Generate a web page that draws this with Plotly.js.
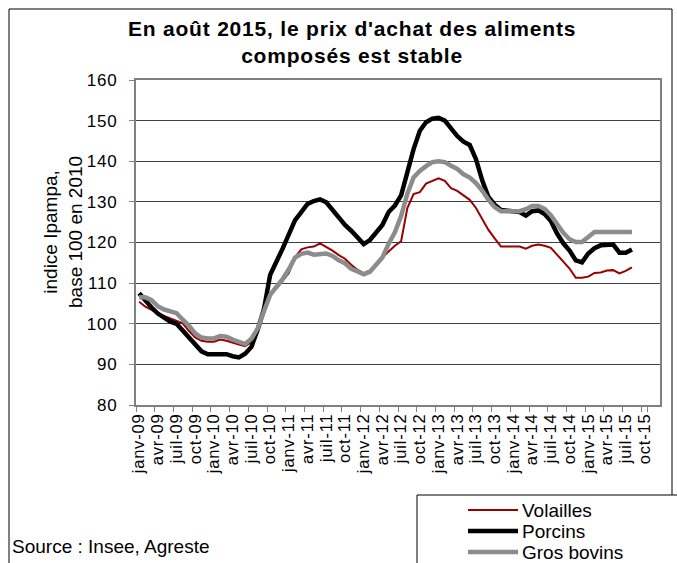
<!DOCTYPE html>
<html>
<head>
<meta charset="utf-8">
<script src="https://cdn.plot.ly/plotly-3.0.1.min.js"></script>
<style>
  html, body { margin: 0; padding: 0; background: #fff; }
  #chart { width: 677px; height: 563px; }
  /* the original chart's title and tick text runs a bit wider than Liberation Sans */
  #chart .gtitle, #chart .xtick text, #chart .ytick text { letter-spacing: 0.8px; }
</style>
</head>
<body>
<div id="chart"></div>
<script>
// axis categories: janv-09 .. déc-15, a label every 3 months
var monthNames = ['janv', 'févr', 'mars', 'avr', 'mai', 'juin', 'juil', 'août', 'sept', 'oct', 'nov', 'déc'];
var years = ['09', '10', '11', '12', '13', '14', '15'];
var months = [];
years.forEach(function (y) {
    monthNames.forEach(function (m) { months.push(m + '-' + y); });
});
var tickMonths = months.filter(function (m, i) { return i % 3 === 0 && i <= 81; });

// indice Ipampa, base 100 en 2010 (janv-09 .. août-15)
var volailles = [
    105.4, 104.2, 103.4, 102.5, 101.9, 101.3, 100.8, 100.1, 98.2, 96.6, 95.8, 95.6,
    95.6, 96.1, 95.8, 95.3, 94.9, 94.5, 95.5, 98.0, 103.0, 107.5, 108.6, 110.6,
    112.5, 116.4, 118.3, 118.8, 119.0, 119.8, 119.0, 118.0, 116.9, 116.0, 114.5, 113.3,
    112.4, 113.1, 114.5, 116.3, 117.8, 119.2, 120.3, 128.5, 131.9, 132.4, 134.5, 135.2,
    135.8, 135.2, 133.4, 132.7, 131.5, 130.5, 128.5, 125.8, 123.1, 121.0, 119.0, 119.0,
    119.0, 119.0, 118.5, 119.2, 119.5, 119.2, 118.7, 117.0, 115.3, 113.6, 111.3, 111.3,
    111.6, 112.5, 112.6, 113.1, 113.2, 112.4, 113.0, 113.9
];
var porcins = [
    107.5, 105.6, 104.0, 102.5, 101.5, 100.5, 100.0, 98.3, 96.5, 94.5, 93.2, 92.5,
    92.5, 92.5, 92.5, 92.0, 91.7, 92.6, 94.3, 98.5, 103.5, 112.0, 115.0, 118.5,
    122.0, 125.5, 127.5, 129.5, 130.2, 130.6, 129.9, 128.0, 126.2, 124.3, 122.9, 121.4,
    119.6, 120.6, 122.5, 124.3, 127.5, 129.1, 131.6, 137.8, 143.0, 147.5, 149.6, 150.5,
    150.7, 150.0, 148.0, 146.2, 144.8, 144.0, 140.5, 135.3, 131.2, 129.3, 128.0, 127.8,
    127.8, 127.5, 126.6, 127.7, 127.9, 127.0, 125.3, 122.2, 119.8, 118.0, 115.6, 115.1,
    117.3, 118.6, 119.3, 119.5, 119.5, 117.5, 117.5, 118.3
];
var grosBovins = [
    106.5, 106.5, 105.8, 104.3, 103.5, 103.0, 102.6, 101.0, 99.5, 97.6, 96.6, 96.4,
    96.4, 97.0, 96.8, 96.1, 95.6, 95.0, 96.3, 98.8, 103.0, 107.1, 109.1, 111.0,
    113.4, 116.3, 117.2, 117.5, 117.0, 117.2, 117.3, 116.7, 115.6, 114.9, 113.5, 112.9,
    112.2, 112.8, 114.7, 116.3, 119.7, 122.5, 126.5, 132.0, 136.0, 137.6, 138.8, 139.8,
    140.0, 139.8, 138.9, 138.1, 136.8, 136.0, 134.6, 132.8, 130.5, 128.7, 127.7, 127.7,
    127.7, 127.7, 128.2, 129.0, 129.0, 128.3, 126.7, 124.5, 122.4, 120.8, 120.1, 120.1,
    121.3, 122.6, 122.6, 122.6, 122.6, 122.6, 122.6, 122.6
];

var seriesNames = ['Volailles', 'Porcins', 'Gros bovins'];
var seriesColors = ['#990000', '#000000', '#8c8c8c'];
var seriesWidths = [2, 4.5, 4.5];
var seriesValues = [volailles, porcins, grosBovins];

var W = 677, H = 563;
var M = {l: 136, r: 17, t: 80, b: 158};
// pixel -> paper helpers for the frame, the legend box and the notes
function px(x) { return (x - M.l) / (W - M.l - M.r); }
function py(y) { return (H - M.b - y) / (H - M.t - M.b); }

var font = 'Liberation Sans, Arial, sans-serif';

var data = seriesValues.map(function (vals, k) {
    return {
        x: months.slice(0, vals.length),
        y: vals,
        name: seriesNames[k],
        type: 'scatter',
        mode: 'lines',
        line: {color: seriesColors[k], width: seriesWidths[k]},
        showlegend: false
    };
});

var shapes = [{
    type: 'rect', xref: 'paper', yref: 'paper', layer: 'below',
    x0: px(9), x1: px(672), y0: py(9), y1: py(620),
    line: {color: '#000', width: 1}, fillcolor: 'rgba(0,0,0,0)'
}, {
    type: 'rect', xref: 'paper', yref: 'paper',
    x0: px(417), x1: px(700), y0: py(495), y1: py(620),
    line: {color: '#000', width: 1}, fillcolor: '#fff'
}];
var annotations = [{
    // y axis title, placed by hand so it sits close to the tick labels
    text: 'indice Ipampa,<br>base 100 en 2010', xref: 'paper', yref: 'paper',
    x: px(63), y: py(232), xanchor: 'center', yanchor: 'middle', textangle: -90,
    showarrow: false, font: {family: font, size: 19, color: '#000'}
}, {
    text: 'Source : Insee, Agreste', xref: 'paper', yref: 'paper',
    x: px(10), y: py(546), xanchor: 'left', yanchor: 'middle', showarrow: false,
    font: {family: font, size: 19, color: '#000'}
}];
var legendY = [510, 531, 552];
seriesNames.forEach(function (name, k) {
    shapes.push({
        type: 'line', xref: 'paper', yref: 'paper',
        x0: px(468), x1: px(518), y0: py(legendY[k]), y1: py(legendY[k]),
        line: {color: seriesColors[k], width: seriesWidths[k]}
    });
    annotations.push({
        text: name, xref: 'paper', yref: 'paper',
        x: px(520), y: py(legendY[k]), xanchor: 'left', yanchor: 'middle', showarrow: false,
        font: {family: font, size: 19, color: '#000'}
    });
});

var layout = {
    width: W,
    height: H,
    margin: M,
    paper_bgcolor: '#fff',
    plot_bgcolor: '#fff',
    font: {family: font, color: '#000'},
    title: {
        text: "<b>En août 2015, le prix d'achat des aliments<br>composés est stable</b>",
        font: {family: font, size: 21, color: '#000'},
        x: 0.52, xanchor: 'center', y: 0.936, yanchor: 'top'
    },
    xaxis: {
        type: 'category',
        categoryorder: 'array',
        categoryarray: months,
        range: [-0.5, months.length - 0.5],
        tickmode: 'array',
        tickvals: tickMonths,
        ticktext: tickMonths,
        tickson: 'boundaries',
        tickangle: -90,
        ticks: 'outside',
        ticklen: 5,
        tickcolor: '#808080',
        tickfont: {family: font, size: 16.5, color: '#000'},
        showgrid: false,
        showline: true,
        linecolor: '#808080',
        linewidth: 2,
        mirror: true,
        zeroline: false
    },
    yaxis: {
        range: [80, 160],
        dtick: 10,
        ticks: 'outside',
        ticklen: 5,
        tickcolor: '#808080',
        tickfont: {family: font, size: 17, color: '#000'},
        ticklabelstandoff: 8,
        showgrid: true,
        gridcolor: '#404040',
        gridwidth: 1,
        showline: true,
        linecolor: '#808080',
        linewidth: 2,
        mirror: true,
        zeroline: false
    },
    shapes: shapes,
    annotations: annotations
};

Plotly.newPlot('chart', data, layout, {displayModeBar: false, staticPlot: true});
</script>
</body>
</html>
